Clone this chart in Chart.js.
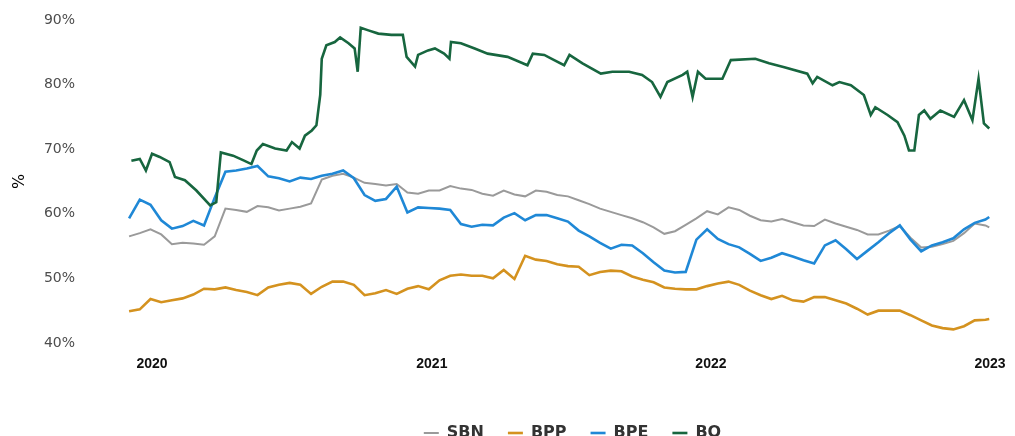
<!DOCTYPE html>
<html><head><meta charset="utf-8">
<script src="https://cdn.jsdelivr.net/npm/chart.js@4.4.0/dist/chart.umd.min.js"></script>
<style>
html,body{margin:0;padding:0;background:#fff;overflow:hidden;}
#wrap{position:relative;width:1015px;height:451px;}
</style></head><body>
<div id="wrap"><canvas id="c"></canvas></div>
<script>
const dates = ['2019-12-02','2019-12-16','2019-12-30','2020-01-13','2020-01-27','2020-02-10','2020-02-24','2020-03-09','2020-03-23','2020-04-06','2020-04-20','2020-05-04','2020-05-18','2020-06-01','2020-06-15','2020-06-29','2020-07-13','2020-07-27','2020-08-10','2020-08-24','2020-09-07','2020-09-21','2020-10-05','2020-10-19','2020-11-02','2020-11-16','2020-11-30','2020-12-14','2020-12-28','2021-01-11','2021-01-25','2021-02-08','2021-02-22','2021-03-08','2021-03-22','2021-04-05','2021-04-19','2021-05-03','2021-05-17','2021-05-31','2021-06-14','2021-06-28','2021-07-12','2021-07-26','2021-08-09','2021-08-23','2021-09-06','2021-09-20','2021-10-04','2021-10-18','2021-11-01','2021-11-15','2021-11-29','2021-12-13','2021-12-27','2022-01-10','2022-01-24','2022-02-07','2022-02-21','2022-03-07','2022-03-21','2022-04-04','2022-04-18','2022-05-02','2022-05-16','2022-05-30','2022-06-13','2022-06-27','2022-07-11','2022-07-25','2022-08-08','2022-08-22','2022-09-05','2022-09-19','2022-10-03','2022-10-17','2022-10-31','2022-11-14','2022-11-28','2022-12-12','2022-12-26','2022-12-31'];

const sbnValues = [56.5,57.0,57.6,56.8,55.3,55.5,55.4,55.2,56.5,60.8,
  60.6,60.3,61.2,61.0,60.5,60.8,61.1,61.6,65.3,65.9,
  66.2,65.6,64.8,64.6,64.4,64.6,63.3,63.1,63.6,63.6,
  64.3,63.9,63.7,63.1,62.8,63.6,63.0,62.7,63.6,63.4,
  62.9,62.7,62.1,61.5,60.8,60.3,59.8,59.3,58.7,57.9,
  56.9,57.3,58.3,59.3,60.4,59.9,61.0,60.6,59.7,59.0,
  58.8,59.2,58.7,58.2,58.1,59.1,58.5,58.0,57.5,56.8,
  56.8,57.4,58.1,56.3,54.8,54.9,55.3,55.8,57.0,58.5,
  58.2,57.9];

const bppValues = [44.9,45.2,46.8,46.3,46.6,46.9,47.5,48.4,48.3,48.6,
  48.2,47.9,47.4,48.6,49.0,49.3,49.0,47.6,48.7,49.5,
  49.5,49.0,47.4,47.7,48.2,47.6,48.4,48.8,48.3,49.7,
  50.4,50.6,50.4,50.4,50.0,51.3,49.9,53.5,52.9,52.7,
  52.2,51.9,51.8,50.5,51.0,51.2,51.1,50.3,49.8,49.4,
  48.6,48.4,48.3,48.3,48.8,49.2,49.5,49.0,48.1,47.4,
  46.8,47.3,46.6,46.4,47.1,47.1,46.6,46.1,45.3,44.4,
  45.0,45.0,45.0,44.3,43.5,42.7,42.3,42.1,42.6,43.5,
  43.6,43.7];

const bpeValues = [59.3,62.2,61.4,59.0,57.7,58.1,58.9,58.2,62.5,66.5,
  66.7,67.0,67.4,65.8,65.5,65.0,65.6,65.4,65.9,66.2,
  66.7,65.5,62.9,62.0,62.3,64.2,60.2,61.0,60.9,60.8,
  60.6,58.4,58.0,58.3,58.2,59.4,60.1,59.0,59.8,59.8,
  59.3,58.8,57.4,56.5,55.5,54.6,55.2,55.1,53.9,52.5,
  51.2,50.9,51.0,56.0,57.6,56.1,55.3,54.8,53.8,52.7,
  53.2,53.9,53.4,52.8,52.3,55.1,55.9,54.5,53.0,54.3,
  55.6,57.0,58.2,56.0,54.2,55.1,55.6,56.2,57.6,58.6,
  59.1,59.5];

const boDates = ['2019-12-05','2019-12-16','2019-12-24','2020-01-01','2020-01-11','2020-01-24','2020-01-31','2020-02-13','2020-02-28','2020-03-17','2020-03-25','2020-03-31','2020-04-16','2020-04-29','2020-05-10','2020-05-17','2020-05-25','2020-06-10','2020-06-25','2020-07-02','2020-07-12','2020-07-19','2020-07-28','2020-08-03','2020-08-08','2020-08-10','2020-08-16','2020-08-27','2020-09-03','2020-09-14','2020-09-22','2020-09-26','2020-09-30','2020-10-10','2020-10-23','2020-11-09','2020-11-24','2020-11-29','2020-12-10','2020-12-14','2020-12-27','2021-01-05','2021-01-17','2021-01-24','2021-01-26','2021-02-08','2021-02-26','2021-03-15','2021-04-10','2021-05-06','2021-05-13','2021-05-28','2021-06-10','2021-06-23','2021-06-30','2021-07-17','2021-08-10','2021-08-25','2021-09-16','2021-10-03','2021-10-16','2021-10-27','2021-11-05','2021-11-25','2021-12-01','2021-12-08','2021-12-15','2021-12-25','2022-01-16','2022-01-27','2022-02-28','2022-03-18','2022-04-07','2022-05-07','2022-05-14','2022-05-20','2022-06-09','2022-06-18','2022-07-03','2022-07-20','2022-07-29','2022-08-04','2022-08-20','2022-09-02','2022-09-11','2022-09-17','2022-09-24','2022-09-30','2022-10-07','2022-10-15','2022-10-28','2022-11-15','2022-11-28','2022-12-09','2022-12-17','2022-12-24','2022-12-31'];

const boValues = [68.2,68.5,66.7,69.3,68.8,68.0,65.7,65.2,63.6,61.3,61.8,69.5,69.0,68.3,67.7,69.8,70.8,70.1,69.8,71.1,70.1,72.1,72.9,73.7,78.4,84.0,86.1,86.6,87.3,86.4,85.6,82.0,88.8,88.4,87.9,87.7,87.7,84.3,82.8,84.6,85.3,85.6,84.8,84.0,86.6,86.4,85.6,84.8,84.3,83.0,84.8,84.6,83.8,83.0,84.6,83.3,81.7,82.0,82.0,81.5,80.4,78.1,80.4,81.5,82.0,78.1,82.0,80.9,80.9,83.8,84.0,83.3,82.7,81.7,80.2,81.2,79.9,80.4,79.9,78.4,75.3,76.5,75.3,74.2,72.1,69.8,69.8,75.3,76.0,74.7,76.0,75.0,77.6,74.5,80.9,74.0,73.2];

const seriesNames = ['SBN', 'BPP', 'BPE', 'BO'];
const seriesColors = ['#9a9a9a', '#d4921f', '#1f88d6', '#17663f'];
const yearTicks = [2020, 2021, 2022, 2023];
const valueTicks = [40, 50, 60, 70, 80, 90];

const DAY = 86400000;
const ORIGIN = Date.UTC(2020, 0, 1);
function dayNum(s) { const p = s.split('-').map(Number); return (Date.UTC(p[0], p[1] - 1, p[2]) - ORIGIN) / DAY; }
function yearDay(y) { return (Date.UTC(y, 0, 1) - ORIGIN) / DAY; }
function pts(ds, vs) { return ds.map((d, i) => ({ x: dayNum(d), y: vs[i] })); }

const seriesData = [pts(dates, sbnValues), pts(dates, bppValues), pts(dates, bpeValues), pts(boDates, boValues)];
const drawOrder = [3, 2, 1, 0];
const widths = [2.0, 2.6, 2.6, 2.6];

const shiftLegend = {
  id: 'shiftLegend',
  afterLayout(chart) { const l = chart.legend; if (l) { l.left += 70; l.right += 70; } }
};

new Chart(document.getElementById('c'), {
  type: 'line',
  data: {
    datasets: seriesNames.map((n, i) => ({
      label: n,
      data: seriesData[i],
      borderColor: seriesColors[i],
      backgroundColor: seriesColors[i],
      borderWidth: widths[i],
      pointRadius: 0,
      tension: 0,
      order: drawOrder[i]
    }))
  },
  options: {
    responsive: true,
    maintainAspectRatio: false,
    animation: false,
    layout: { padding: { top: 15, right: 10, left: 0, bottom: 0 } },
    plugins: {
      tooltip: { enabled: false },
      legend: {
        position: 'bottom',
        labels: {
          usePointStyle: true,
          pointStyle: 'line',
          pointStyleWidth: 15,
          boxHeight: 16,
          padding: 24,
          color: '#333333',
          font: { family: "'DejaVu Sans', sans-serif", size: 16, weight: 'bold' },
          sort: (a, b) => a.datasetIndex - b.datasetIndex
        }
      }
    },
    scales: {
      x: {
        type: 'linear',
        min: -94.2,
        max: 1115.6,
        grid: { display: false, drawTicks: false },
        border: { display: false },
        afterBuildTicks: (s) => { s.ticks = yearTicks.map(y => ({ value: yearDay(y) })); },
        afterFit: (s) => { s.height = 53; },
        ticks: {
          autoSkip: false,
          maxRotation: 0,
          padding: 8,
          color: '#111111',
          font: { family: "'Liberation Sans Narrow', 'Liberation Sans', Arial, sans-serif", size: 14, weight: 'bold' },
          callback: (v) => { const y = yearTicks.find(t => Math.abs(yearDay(t) - v) < 1); return y ? String(y) : ''; }
        }
      },
      y: {
        type: 'linear',
        min: 39.22,
        max: 90.78,
        grid: { display: false, drawTicks: false },
        border: { display: false },
        afterBuildTicks: (s) => { s.ticks = valueTicks.map(v => ({ value: v })); },
        afterFit: (s) => { s.width = 80; },
        title: {
          display: true,
          text: '%',
          color: '#000000',
          padding: { top: 10, bottom: 0 },
          font: { family: "'DejaVu Sans', sans-serif", size: 16 }
        },
        ticks: {
          padding: 5,
          color: '#4d4d4d',
          font: { family: "'DejaVu Sans', sans-serif", size: 14 },
          callback: (v) => v + '%'
        }
      }
    }
  },
  plugins: [shiftLegend]
});
</script>
</body></html>
